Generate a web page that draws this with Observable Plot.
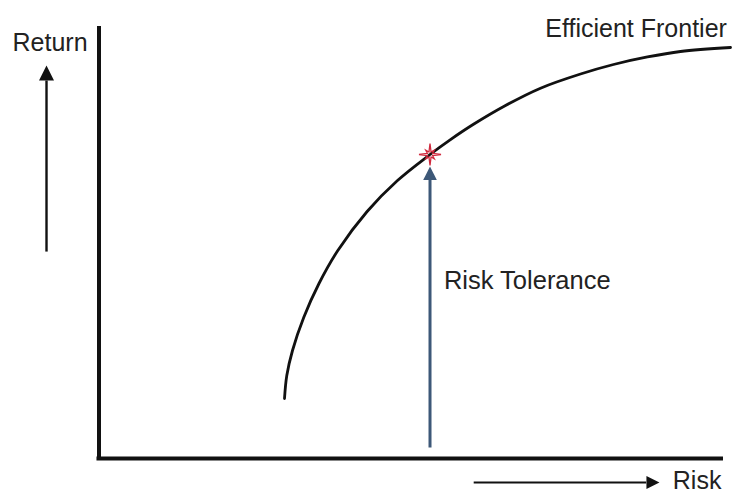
<!DOCTYPE html>
<html>
<head>
<meta charset="utf-8">
<script src="https://cdn.jsdelivr.net/npm/d3@7"></script>
<script src="https://cdn.jsdelivr.net/npm/@observablehq/plot@0.6"></script>
<style>
  html, body { margin: 0; padding: 0; background: #fff; }
</style>
</head>
<body>
<div id="chart"></div>
<script>
// Efficient frontier (risk, return), in arbitrary units 0–100
const frontierRisk = [29.26, 29.62, 30.52, 32.29, 34.70, 37.67, 42.29, 47.08, 52.21, 55.44, 59.07, 64.12, 69.64, 75.95, 81.15, 86.51, 91.72, 99.61];
const frontierReturn = [13.89, 19.21, 25.00, 32.64, 40.51, 48.15, 57.18, 64.35, 70.37, 73.82, 77.36, 81.71, 85.72, 89.00, 91.20, 92.94, 94.21, 95.14];

// Chosen portfolio (risk tolerance point on the frontier)
const toleranceRisk = [52.21];
const toleranceReturn = [70.37];

// Text labels
const labelReturn = "Return";
const labelRisk = "Risk";
const labelFrontier = "Efficient Frontier";
const labelTolerance = "Risk Tolerance";

const frontier = frontierRisk.map((x, i) => ({risk: x, ret: frontierReturn[i]}));
const tolerance = toleranceRisk.map((x, i) => ({risk: x, ret: toleranceReturn[i]}));

// custom symbols
const arrowHead = {
  draw(ctx, size) {
    const r = Math.sqrt(size / Math.PI);
    ctx.moveTo(0, 0);
    ctx.lineTo(r, 2 * r);
    ctx.lineTo(-r, 2 * r);
    ctx.closePath();
  }
};
const sparkle = {
  draw(ctx, size) {
    const r = Math.sqrt(size / Math.PI);
    for (let i = 0; i < 16; i++) {
      const a = i * Math.PI / 8 - Math.PI / 2;
      const rr = i % 4 === 0 ? r : (i % 2 === 0 ? r * 0.55 : r * 0.25);
      const px = rr * Math.cos(a), py = rr * Math.sin(a);
      if (i === 0) ctx.moveTo(px, py); else ctx.lineTo(px, py);
    }
    ctx.closePath();
  }
};

const font = "'Liberation Sans', Arial, sans-serif";
const ink = "#222";
const fs = 25;

const chart = Plot.plot({
  width: 734,
  height: 491,
  marginLeft: 98.5,
  marginRight: 1.5,
  marginTop: 26,
  marginBottom: 33,
  x: {domain: [0, 100], axis: null},
  y: {domain: [0, 100], axis: null},
  style: {background: "white", fontFamily: font},
  marks: [
    // axes
    Plot.ruleX([0], {y1: 0, y2: 100, stroke: "#111", strokeWidth: 4}),
    Plot.ruleY([0], {x1: -0.32, x2: 98.5, stroke: "#111", strokeWidth: 4}),
    // efficient frontier
    Plot.line(frontier, {x: "risk", y: "ret", curve: "catmull-rom", stroke: "#111", strokeWidth: 2.8}),
    // risk tolerance arrow
    Plot.link(tolerance, {x1: "risk", x2: "risk", y1: 2.55, y2: 64.8, stroke: "#3d5878", strokeWidth: 3}),
    Plot.dot(tolerance, {x: "risk", y: 67.6, symbol: arrowHead, r: 6.8, fill: "#3d5878", stroke: "none"}),
    Plot.dot(tolerance, {x: "risk", y: "ret", symbol: sparkle, r: 11, fill: "none", stroke: "#d02a3e", strokeWidth: 1.3}),
    // Return arrow
    Plot.link([0], {x1: -8.28, x2: -8.28, y1: 47.9, y2: 87.5, stroke: "#111", strokeWidth: 2.4, clip: false}),
    Plot.dot([0], {x: -8.28, y: 91.0, symbol: arrowHead, r: 7.5, fill: "#111", stroke: "none", clip: false}),
    // Risk arrow
    Plot.link([0], {x1: 59.1, x2: 86.3, y1: -5.56, y2: -5.56, stroke: "#111", strokeWidth: 2.2}),
    Plot.dot([0], {x: 88.4, y: -5.56, symbol: arrowHead, r: 6.5, rotate: 90, fill: "#111", stroke: "none"}),
    // labels
    Plot.text([labelReturn], {x: -13.64, y: 94.3, text: d => d, textAnchor: "start", lineAnchor: "bottom", fontSize: fs, fill: ink, fontFamily: font}),
    Plot.text([labelFrontier], {x: 70.4, y: 97.5, text: d => d, textAnchor: "start", lineAnchor: "bottom", fontSize: fs, fill: ink, fontFamily: font}),
    Plot.text([labelTolerance], {x: 54.4, y: 39.2, text: d => d, textAnchor: "start", lineAnchor: "bottom", fontSize: 25.5, fill: ink, fontFamily: font}),
    Plot.text([labelRisk], {x: 90.5, y: -7.1, text: d => d, textAnchor: "start", lineAnchor: "bottom", fontSize: fs, fill: ink, fontFamily: font})
  ]
});
document.getElementById("chart").appendChild(chart);
</script>
</body>
</html>
